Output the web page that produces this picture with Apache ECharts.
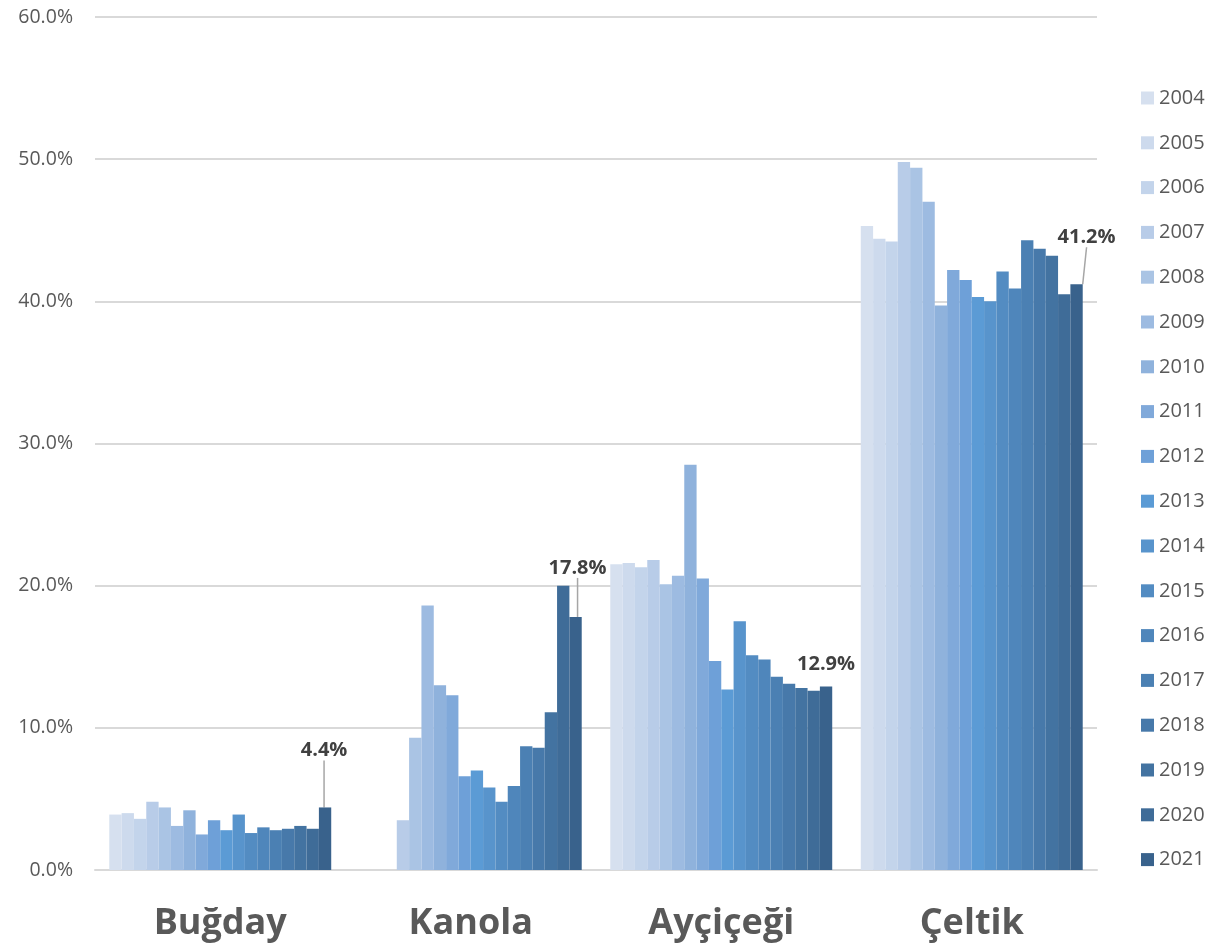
<!DOCTYPE html>
<html lang="tr">
  <head>
    <meta charset="UTF-8" />
    <title>Oranlar</title>
    <style>
      html, body { margin: 0; padding: 0; background: #fff; }
      #chart { width: 1208px; height: 949px; }
    </style>
  </head>
  <body>
    <div id="chart"></div>
    <script src="https://cdn.jsdelivr.net/npm/echarts@6/dist/echarts.min.js"></script>
    <script>
      // kategoriler ve yıllar
      const categories = ['Buğday', 'Kanola', 'Ayçiçeği', 'Çeltik'];
      const years = ['2004', '2005', '2006', '2007', '2008', '2009', '2010', '2011', '2012',
        '2013', '2014', '2015', '2016', '2017', '2018', '2019', '2020', '2021'];

      // yıllara göre değerler (%)
      const bugday = [3.9, 4.0, 3.6, 4.8, 4.4, 3.1, 4.2, 2.5, 3.5, 2.8, 3.9, 2.6, 3.0, 2.8, 2.9, 3.1, 2.9, 4.4];
      const kanola = [null, null, null, 3.5, 9.3, 18.6, 13.0, 12.3, 6.6, 7.0, 5.8, 4.8, 5.9, 8.7, 8.6, 11.1, 20.0, 17.8];
      const aycicegi = [21.5, 21.6, 21.3, 21.8, 20.1, 20.7, 28.5, 20.5, 14.7, 12.7, 17.5, 15.1, 14.8, 13.6, 13.1, 12.8, 12.6, 12.9];
      const celtik = [45.3, 44.4, 44.2, 49.8, 49.4, 47.0, 39.7, 42.2, 41.5, 40.3, 40.0, 42.1, 40.9, 44.3, 43.7, 43.2, 40.5, 41.2];

      const yTicks = [0, 10, 20, 30, 40, 50, 60];

      const colors = ['#d6e0ef', '#cddaed', '#c3d4eb', '#b8cce8', '#aac4e4', '#9dbbe1',
        '#8fb2dc', '#80a9da', '#6ea0d8', '#5b9bd5', '#5894cc', '#538cc2',
        '#4f86bb', '#4b80b3', '#4779aa', '#4373a1', '#3f6c98', '#39628c'];

      // son yıl etiketlerinin kaydırması ve kılavuz çizgisi
      const labelShift = [[-1, -43], [2, -35], [0, 0], [10, -33]];
      const showGuide = [true, true, false, true];

      const myChart = echarts.init(document.getElementById('chart'));
      const series = years.map((year, i) => {
        const vals = [bugday[i], kanola[i], aycicegi[i], celtik[i]];
        const s = {
          name: year,
          type: 'bar',
          barGap: '0%',
          barCategoryGap: '11.4%',
          itemStyle: { color: colors[i] },
          data: vals.map((v) => (v === null ? '-' : v)),
        };
        if (i === years.length - 1) {
          s.data = vals.map((v, k) => ({
            value: v,
            labelLine: { show: showGuide[k] },
            label: k === 2 ? { distance: 12 } : {},
          }));
          s.label = {
            show: true,
            position: 'top',
            distance: 4,
            formatter: (p) => p.value.toFixed(1) + '%',
            fontFamily: 'Open Sans',
            fontWeight: 'bold',
            fontSize: 20,
            color: '#404040',
          };
          s.labelLine = { show: true, lineStyle: { color: '#a6a6a6', width: 1.5 } };
          s.labelLayout = (params) => ({
            dx: labelShift[params.dataIndex][0],
            dy: labelShift[params.dataIndex][1],
          });
        }
        return s;
      });

      const option = {
        backgroundColor: '#ffffff',
        animation: false,
        grid: { left: 95, right: 111, top: 17, bottom: 79 },
        legend: {
          data: years,
          orient: 'vertical',
          left: 1136,
          top: 83,
          icon: 'rect',
          itemWidth: 13,
          itemHeight: 13,
          itemGap: 24.8,
          textStyle: { fontFamily: 'Open Sans', fontSize: 20, color: '#595959', lineHeight: 20 },
        },
        xAxis: {
          type: 'category',
          data: categories,
          axisLine: { lineStyle: { color: '#d9d9d9', width: 2 } },
          axisTick: { show: false },
          axisLabel: {
            margin: 36,
            fontFamily: 'Open Sans',
            fontWeight: 'bold',
            fontSize: 36,
            color: '#595959',
          },
        },
        yAxis: {
          type: 'value',
          min: yTicks[0],
          max: yTicks[yTicks.length - 1],
          interval: 10,
          axisLine: { show: false },
          axisTick: { show: false },
          splitLine: { lineStyle: { color: '#d9d9d9', width: 2 } },
          axisLabel: {
            margin: 22,
            fontFamily: 'Open Sans',
            fontSize: 19.5,
            color: '#595959',
            formatter: (v) => v.toFixed(1) + '%',
          },
        },
        series: series,
      };

      myChart.setOption(option);
    </script>
  </body>
</html>
